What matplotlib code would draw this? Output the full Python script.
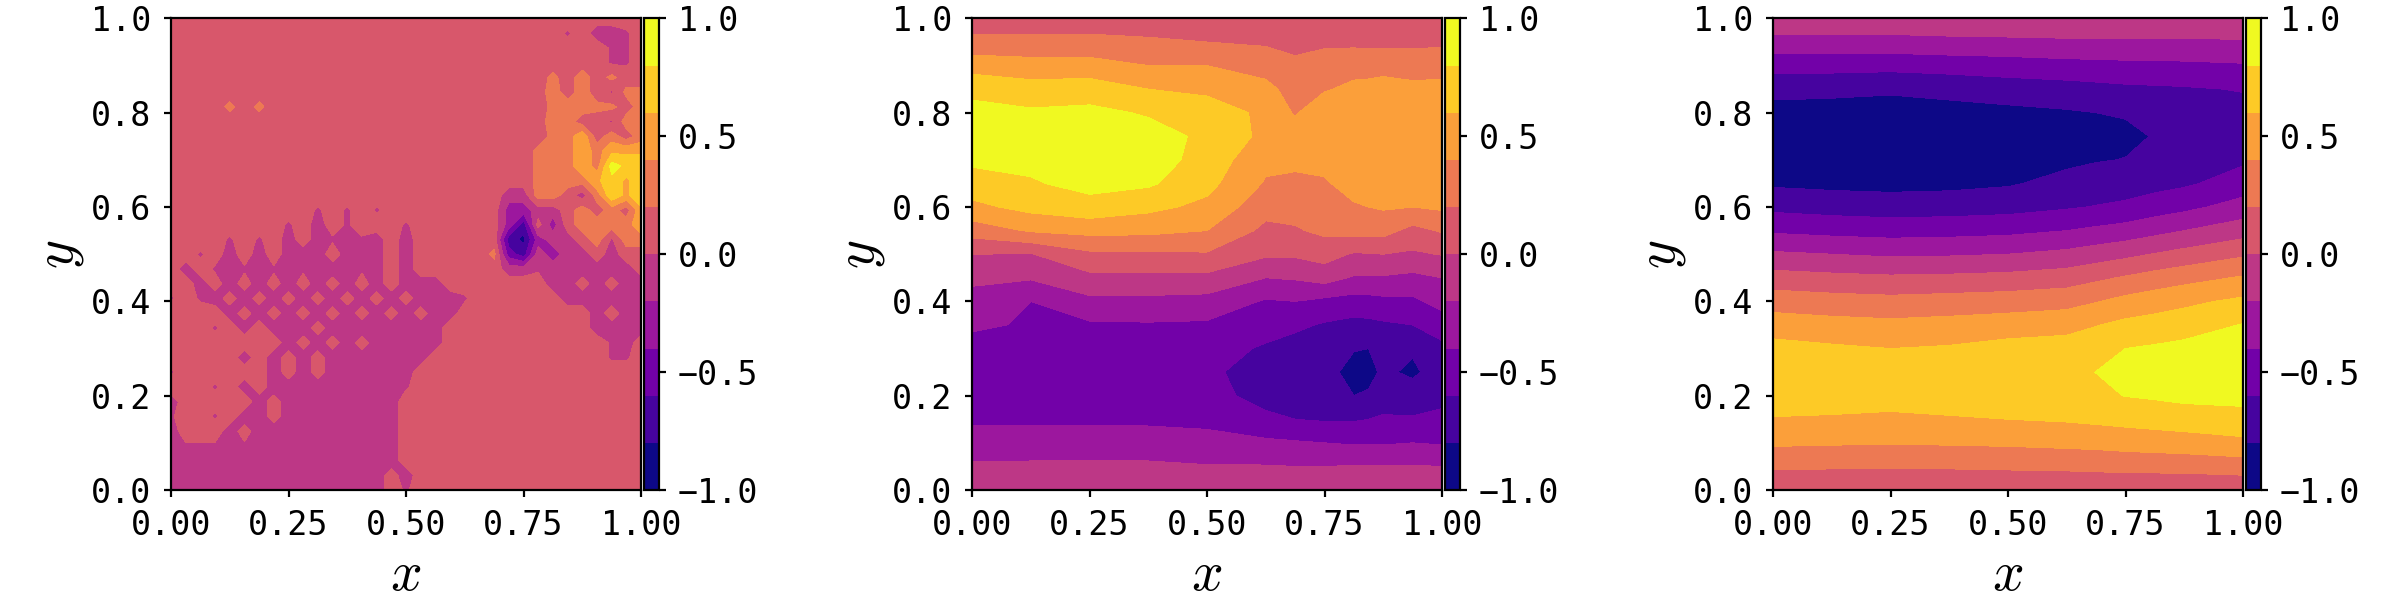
import numpy as np
import matplotlib
matplotlib.use('Agg')
import matplotlib.pyplot as plt

plt.rcParams['font.family'] = ['DejaVu Sans Mono']
plt.rcParams['mathtext.fontset'] = 'cm'
plt.rcParams['font.size'] = 12
plt.rcParams['xtick.major.size'] = 2.5
plt.rcParams['ytick.major.size'] = 2.5
plt.rcParams['xtick.major.pad'] = 4.5
plt.rcParams['ytick.major.pad'] = 4.5

levels = np.linspace(-1, 1, 11)
x_ticks = [0, 0.25, 0.5, 0.75, 1]
y_ticks = [0, 0.2, 0.4, 0.6, 0.8, 1]
cbar_ticks = [-1, -0.5, 0, 0.5, 1]

# panel 1: noisy field, one letter per grid point, top row is y=1
p1_codes = {'.': 0.1, ',': 0.08, ':': -0.03, 'm': -0.1, 'p': -0.3, 'q': -0.5,
            'r': -0.7, 's': -0.85, 'c': 0.25, 'o': 0.3, 'a': 0.55, 'g': 0.75, 'y': 0.88}
p1_rows = [
    "..................... ............",
    "..................... ......:.mm:.",
    "..................... .........::.",
    "..................... .........::.",
    "..................... .....c.o.c..",
    "..................... .....o.o.:cc",
    "....c.c.............. .....coocc.o",
    "..................... .....oo..:oo",
    "..................... .....coa.o.o",
    "..................... ....cooaoaaa",
    "..................... ....cooaoygg",
    "..................... ....coooagag",
    "..................... ..mmoo.mogag",
    "..........:.:.:...... ..ppmm.o.o.a",
    "........:.m.:...:.... ..pr,p.ooooa",
    "....:.:.m.m:m:m.m.... ..rspmm.o:oo",
    "..:.m.m.mmm.mmm.m.... .cqrmpmm.m..",
    ".m.:m:m:m:mmm:m.m.... ..mm:mmmmmm,",
    "..m,m,m,m,m,m,m.mmm.. .....mm,m,mm",
    ":.:m,m,m,m,m,m,m,mmm: ......mmmmmm",
    "....m,m,m,m,m,m,m,mm. ........m.mm",
    "...:.m.m:m,mmmmmmmm.. ........mmmm",
    "........m,m,m,mmmmm.. .........:m.",
    ".....m.m,m,mmmmmmm... .........::.",
    ":......m,m,mmmmmm.... ............",
    "...:.m.mmmmmmmmm:.... ............",
    "m.....m,mmmmmmmm..... ............",
    ":..:.mm,mmmmmmmm..... ............",
    "m...m,mmmmmmmmmm..... ............",
    ":::::::mmmmmmmmm..... ............",
    "mmmmmmmmmmmmmmmm..... ............",
    "mmmmmmmmmmmmmmm,m.... ............",
    "mmmmmmmmmmmmmmm.:.... ............",
]

# panels 2 and 3: one list per x column, y going 0 to 1 in steps of 0.05
y_rows = [0, .05, .1, .15, .2, .25, .3, .35, .4, .45, .5, .55, .6, .65, .7, .75, .8, .85, .9, .95, 1]

p2_x = [0, .125, .25, .375, .5, .625, .6875, .75, .8125, .84375, .875, .9375, 1]
p2_cols = [
    [-.10, -.175, -.30, -.44, -.52, -.55, -.47, -.37, -.27, -.16, 0, .29, .55, .71, .84, .90, .87, .74, .52, .25, .10],
    [-.10, -.17, -.30, -.44, -.52, -.55, -.50, -.42, -.40, -.18, -.01, .42, .66, .78, .85, .92, .83, .68, .48, .25, .10],
    [-.10, -.17, -.30, -.44, -.52, -.55, -.50, -.43, -.25, -.05, .16, .46, .73, .86, .90, .92, .85, .70, .48, .25, .10],
    [-.10, -.17, -.30, -.44, -.52, -.55, -.50, -.42, -.25, -.05, .17, .45, .65, .83, .90, .88, .78, .60, .40, .22, .12],
    [-.10, -.19, -.32, -.46, -.55, -.57, -.50, -.43, -.27, -.05, .18, .40, .55, .66, .72, .76, .72, .55, .40, .20, .10],
    [-.10, -.19, -.36, -.57, -.65, -.67, -.63, -.50, -.42, -.20, .03, .15, .27, .38, .45, .55, .55, .45, .33, .17, .10],
    [-.10, -.20, -.38, -.60, -.70, -.72, -.68, -.56, -.40, -.18, .03, .18, .27, .36, .44, .50, .38, .33, .25, .13, .08],
    [-.10, -.20, -.40, -.62, -.72, -.74, -.72, -.62, -.45, -.12, .08, .24, .32, .38, .45, .50, .55, .38, .30, .16, .10],
    [-.10, -.19, -.42, -.62, -.80, -.86, -.79, -.66, -.48, -.22, -.02, .27, .38, .47, .50, .55, .55, .45, .32, .16, .10],
    [-.10, -.19, -.42, -.60, -.78, -.85, -.80, -.65, -.47, -.22, -.01, .27, .40, .47, .50, .55, .55, .46, .32, .15, .10],
    [-.10, -.19, -.42, -.57, -.72, -.77, -.72, -.63, -.45, -.22, 0, .27, .42, .48, .50, .55, .55, .48, .33, .15, .10],
    [-.10, -.19, -.40, -.58, -.72, -.83, -.78, -.60, -.44, -.25, -.03, .14, .40, .48, .52, .55, .55, .44, .33, .15, .10],
    [-.10, -.20, -.42, -.55, -.66, -.72, -.65, -.50, -.33, -.20, .01, .22, .43, .46, .50, .53, .55, .45, .33, .16, .10],
]

p3_x = [0, .125, .25, .375, .5, .625, .6875, .75, .8125, .875, 1]
p3_cols = [
    [.03, .23, .43, .59, .68, .72, .67, .50, .31, .08, -.17, -.43, -.65, -.83, -.90, -.92, -.87, -.74, -.53, -.27, -.05],
    [.03, .22, .42, .58, .68, .72, .63, .47, .28, .05, -.20, -.46, -.68, -.85, -.91, -.93, -.88, -.75, -.53, -.27, -.05],
    [.03, .22, .41, .56, .68, .72, .60, .45, .26, .03, -.23, -.48, -.70, -.86, -.92, -.94, -.89, -.77, -.54, -.27, -.05],
    [.03, .22, .42, .58, .70, .74, .62, .47, .28, .04, -.22, -.47, -.69, -.85, -.90, -.92, -.87, -.74, -.52, -.25, -.05],
    [.03, .23, .43, .60, .72, .75, .67, .50, .30, .06, -.20, -.45, -.67, -.82, -.87, -.89, -.85, -.70, -.50, -.24, -.05],
    [.03, .24, .45, .62, .72, .76, .69, .53, .33, .10, -.15, -.40, -.62, -.74, -.84, -.88, -.82, -.68, -.47, -.23, -.04],
    [.03, .25, .46, .64, .76, .802, .74, .59, .39, .16, -.10, -.36, -.59, -.72, -.81, -.86, -.80, -.66, -.46, -.23, -.04],
    [.03, .26, .48, .66, .805, .84, .80, .65, .46, .22, -.05, -.32, -.56, -.70, -.795, -.84, -.785, -.64, -.45, -.23, -.04],
    [.03, .265, .495, .68, .825, .87, .825, .68, .51, .28, .01, -.26, -.50, -.665, -.745, -.79, -.745, -.63, -.445, -.23, -.04],
    [.03, .27, .51, .70, .85, .90, .86, .70, .56, .33, .065, -.20, -.45, -.63, -.70, -.74, -.71, -.62, -.44, -.23, -.04],
    [.03, .30, .55, .74, .85, .92, .90, .81, .64, .42, .17, -.09, -.32, -.51, -.63, -.68, -.66, -.59, -.42, -.22, -.03],
]

p1_z = np.array([[p1_codes[c] for c in row.replace(" ", "")] for row in p1_rows])[::-1]
p1_x = np.linspace(0, 1, p1_z.shape[1])
p1_y = np.linspace(0, 1, p1_z.shape[0])
p2_z = np.array(p2_cols).T
p3_z = np.array(p3_cols).T

fields = [(p1_x, p1_y, p1_z), (p2_x, y_rows, p2_z), (p3_x, y_rows, p3_z)]
band_colors = plt.get_cmap('plasma')(np.linspace(0, 1, 10))

W, H = 2400.0, 600.0
ax_top, ax_bot = 18.4, 490.0
ax_lefts = [171.0, 972.0, 1773.0]
ax_w = 470.0
cbar_gap = 2.5
cbar_w = 15.0

fig = plt.figure(figsize=(12, 3), dpi=200)

for left, (xx, yy, zz) in zip(ax_lefts, fields):
    ax = fig.add_axes([left / W, 1 - ax_bot / H, ax_w / W, (ax_bot - ax_top) / H])
    cax = fig.add_axes([(left + ax_w + cbar_gap) / W, 1 - ax_bot / H, cbar_w / W, (ax_bot - ax_top) / H])
    cs = ax.contourf(xx, yy, zz, levels=levels, colors=band_colors)
    ax.set_xlim(0, 1)
    ax.set_ylim(0, 1)
    ax.set_xticks(x_ticks)
    ax.set_xticklabels(['0.00', '0.25', '0.50', '0.75', '1.00'])
    ax.set_yticks(y_ticks)
    ax.set_yticklabels(['0.0', '0.2', '0.4', '0.6', '0.8', '1.0'])
    ax.set_xlabel('$x$', fontsize=20, labelpad=2)
    ax.set_ylabel('$y$', fontsize=20, labelpad=2)
    cb = fig.colorbar(cs, cax=cax, ticks=cbar_ticks)
    cb.ax.set_yticklabels(['\u22121.0', '\u22120.5', '0.0', '0.5', '1.0'])

fig.savefig('out.png', dpi=200)
